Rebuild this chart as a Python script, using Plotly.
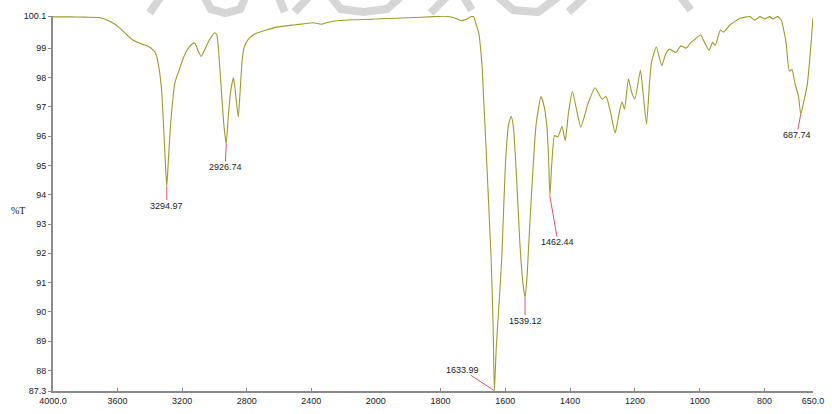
import plotly.graph_objects as go

# FT-IR spectrum: wavenumber (cm-1) and transmittance (%T)
wavenumber = [
    4000, 3900, 3800, 3713, 3660, 3611, 3560, 3510, 3449, 3410, 3387, 3370, 3357,
    3340, 3326, 3312, 3303, 3294.97, 3285, 3270, 3245, 3214, 3190, 3174, 3150, 3122,
    3100, 3082, 3060, 3030, 2998, 2985, 2970, 2955, 2940, 2926.74, 2915, 2900, 2882,
    2868, 2852, 2840, 2828, 2815, 2790, 2760, 2736, 2614, 2500, 2388, 2339, 2300,
    2266, 2150, 2000, 1900, 1820, 1788, 1758, 1737, 1722, 1705, 1698, 1690, 1682,
    1672, 1667, 1660, 1650, 1644, 1638, 1633.99, 1628, 1620, 1611, 1600, 1590, 1582,
    1575, 1565, 1555, 1545, 1539.12, 1533, 1530, 1520, 1505, 1490, 1480, 1472, 1467,
    1462.44, 1457, 1448, 1438, 1425, 1415, 1405, 1393, 1380, 1367, 1345, 1323, 1301,
    1289, 1275, 1261, 1250, 1240, 1232, 1220, 1210, 1200, 1183, 1175, 1164, 1155,
    1149, 1134, 1117, 1105, 1093, 1073, 1058, 1042, 1027, 1015, 997, 985, 971, 960,
    952, 936, 926, 906, 875, 845, 830, 814, 799, 784, 774, 759, 748, 740, 733, 723,
    715, 705, 695, 687.74, 678, 667, 655, 650,
]
transmittance = [
    100.07, 100.07, 100.06, 100.05, 99.95, 99.80, 99.55, 99.30, 99.14, 99.07, 98.98, 98.88, 98.70,
    98.20, 97.48, 96.00, 95.00, 94.28, 95.20, 96.50, 97.82, 98.33, 98.70, 98.89, 99.08, 99.18,
    98.90, 98.72, 98.95, 99.30, 99.53, 99.45, 98.61, 97.40, 96.30, 95.73, 96.60, 97.50, 98.00,
    97.40, 96.65, 97.60, 98.60, 99.05, 99.30, 99.45, 99.52, 99.72, 99.80, 99.87, 99.82, 99.88,
    99.92, 99.97, 100.00, 100.04, 100.08, 100.09, 100.04, 99.94, 99.98, 100.08, 100.08, 99.80, 99.51,
    98.38, 97.26, 95.70, 93.30, 91.84, 89.60, 87.31, 88.80, 90.20, 91.84, 95.00, 96.40, 96.68,
    96.30, 94.50, 92.30, 90.90, 90.49, 91.20, 91.84, 93.90, 96.40, 97.35, 97.00, 96.35, 95.40,
    93.95, 95.00, 96.02, 95.97, 96.33, 95.85, 96.80, 97.52, 96.90, 96.30, 97.10, 97.65, 97.26,
    97.35, 96.80, 96.11, 96.70, 97.17, 96.92, 97.96, 97.50, 97.26, 98.25, 97.50, 96.41, 97.80,
    98.50, 99.04, 98.41, 98.80, 98.97, 98.86, 99.08, 99.00, 99.20, 99.30, 99.45, 99.20, 98.93, 99.20,
    99.10, 99.62, 99.55, 99.80, 100.02, 100.08, 99.96, 100.08, 100.00, 100.08, 100.00, 100.08, 99.96, 99.60, 99.18, 98.22,
    98.27, 97.77, 97.37, 96.75, 97.20, 97.82, 99.30, 100.05,
]

# Labelled band positions
peak_wn = [3294.97, 2926.74, 1633.99, 1539.12, 1462.44, 687.74]
peak_labels = ["3294.97", "2926.74", "1633.99", "1539.12", "1462.44", "687.74"]
# label offsets in px (ax, ay) relative to each band minimum
peak_offsets = [(0, 19), (-1, 23), (-32, -21), (0, 23), (8, 46), (-4, 21)]

# x tick labels for the two wavenumber segments (2x expansion below 2000 cm-1)
hi_ticks = [4000, 3600, 3200, 2800, 2400, 2000]
hi_ticktext = ["4000.0", "3600", "3200", "2800", "2400", "2000"]
lo_ticks = [1800, 1600, 1400, 1200, 1000, 800, 650]
lo_ticktext = ["1800", "1600", "1400", "1200", "1000", "800", "650.0"]
y_ticks = [87.3, 88, 89, 90, 91, 92, 93, 94, 95, 96, 97, 98, 99, 100.1]
y_ticktext = ["87.3", "88", "89", "90", "91", "92", "93", "94", "95", "96", "97", "98", "99", "100.1"]

# light grey watermark strokes along the top edge (pixel polylines)
watermark_strokes = [
    [(162, -3), (151, 13)],
    [(207, -3), (213, 9), (228, 13), (243, 9), (248, -3)],
    [(282, -3), (288, 12)],
    [(298, 12), (312, -3)],
    [(335, -3), (345, 9), (368, 12), (392, 9), (405, -3)],
    [(452, -3), (436, 13)],
    [(470, -3), (478, 10)],
    [(505, -3), (520, 10), (545, 12), (565, -3)],
    [(592, -3), (576, 12)],
    [(690, -3), (700, 10)],
]

LINE = "#9c9c2e"
AXIS = "#8a8a8a"
PEAK = "#d4596a"
TXT = "#222222"
FONT = dict(family="Liberation Sans, Arial, sans-serif", size=9, color=TXT)

W, H = 832, 414
ML, MR, MT, MB = 53, 8, 16, 19
PW, PH = W - ML - MR, H - MT - MB


def px_to_paper(px, py):
    return (px - ML) / PW, (H - MB - py) / PH


hi = [(w, t) for w, t in zip(wavenumber, transmittance) if w >= 2000]
lo = [(w, t) for w, t in zip(wavenumber, transmittance) if w <= 2000]

fig = go.Figure()
fig.add_trace(go.Scatter(x=[p[0] for p in hi], y=[p[1] for p in hi], mode="lines",
                         line=dict(color=LINE, width=1.1, shape="spline", smoothing=0.5),
                         xaxis="x", yaxis="y", hoverinfo="skip", showlegend=False))
fig.add_trace(go.Scatter(x=[p[0] for p in lo], y=[p[1] for p in lo], mode="lines",
                         line=dict(color=LINE, width=1.1, shape="spline", smoothing=0.5),
                         xaxis="x2", yaxis="y", hoverinfo="skip", showlegend=False))

split = 327.5 / PW
axis_common = dict(showline=True, linecolor=AXIS, linewidth=2, ticks="inside", ticklen=3,
                   tickcolor=AXIS, showgrid=False, zeroline=False, tickfont=FONT,
                   ticklabeloverflow="allow", anchor="y")

# value lookup so each label arrow ends on the drawn curve
lookup = dict(zip(wavenumber, transmittance))
annotations = []
for w, lab, (ax, ay) in zip(peak_wn, peak_labels, peak_offsets):
    annotations.append(dict(
        x=w, y=lookup[w], xref="x" if w >= 2000 else "x2", yref="y",
        text=lab, showarrow=True, arrowhead=0, arrowwidth=1, arrowcolor=PEAK,
        ax=ax, ay=ay, standoff=0, startstandoff=0, font=FONT, borderpad=0,
    ))
tx, ty = px_to_paper(18, 213)
annotations.append(dict(x=tx, y=ty, xref="paper", yref="paper", text="%T",
                        xanchor="center", yanchor="middle", showarrow=False,
                        font=dict(family="Liberation Serif, serif", size=10, color=TXT)))

shapes = []
for stroke in watermark_strokes:
    pts = [px_to_paper(x, y) for x, y in stroke]
    path = "M " + " L ".join(f"{x:.4f},{y:.4f}" for x, y in pts)
    shapes.append(dict(type="path", path=path, xref="paper", yref="paper",
                       line=dict(color="#d6d6d6", width=8), layer="below"))

fig.update_layout(
    width=W, height=H,
    margin=dict(l=ML, r=MR, t=MT, b=MB),
    paper_bgcolor="white", plot_bgcolor="rgba(0,0,0,0)",
    xaxis=dict(domain=[0, split], range=[4000, 2000], tickvals=hi_ticks, ticktext=hi_ticktext, **axis_common),
    xaxis2=dict(domain=[split, 1], range=[2000, 650], tickvals=lo_ticks, ticktext=lo_ticktext, **axis_common),
    yaxis=dict(range=[87.3, 100.1], tickvals=y_ticks, ticktext=y_ticktext, showline=True,
               linecolor=AXIS, linewidth=2, ticks="outside", ticklen=3, tickcolor=AXIS,
               showgrid=False, zeroline=False, tickfont=FONT, ticklabeloverflow="allow"),
    annotations=annotations,
    shapes=shapes,
)

fig.write_html("out.html")
